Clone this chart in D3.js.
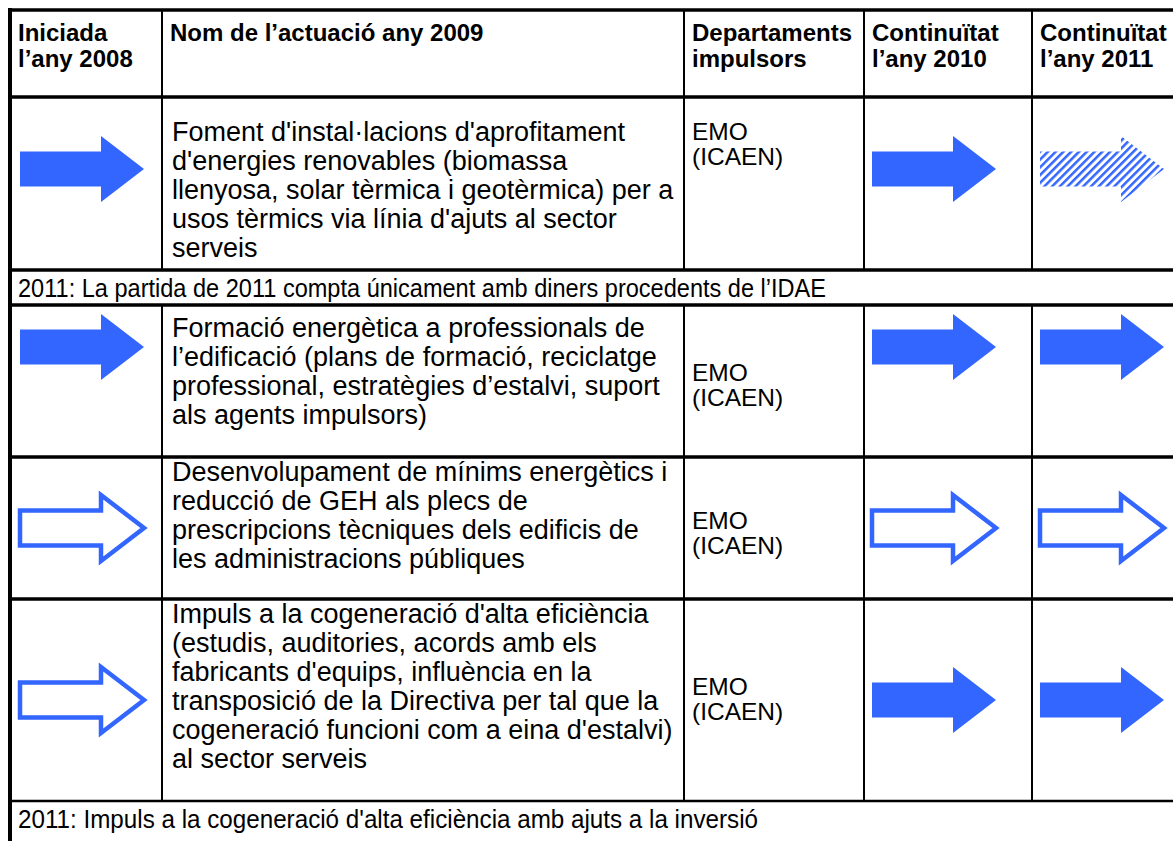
<!DOCTYPE html>
<html><head><meta charset="utf-8">
<script src="https://cdn.jsdelivr.net/npm/d3@7"></script>
<style>html,body{margin:0;padding:0;background:#fff;}svg{display:block;}</style>
</head><body>
<script>
// ---- data ----
const headerLabels = [["Iniciada","l’any 2008"],["Nom de l’actuació any 2009"],["Departaments","impulsors"],["Continuïtat","l’any 2010"],["Continuïtat","l’any 2011"]];
const actionNames = [
  ["Foment d'instal·lacions d'aprofitament","d'energies renovables (biomassa","llenyosa, solar tèrmica i geotèrmica) per a","usos tèrmics via línia d'ajuts al sector","serveis"],
  ["Formació energètica a professionals de","l’edificació (plans de formació, reciclatge","professional, estratègies d’estalvi, suport","als agents impulsors)"],
  ["Desenvolupament de mínims energètics i","reducció de GEH als plecs de","prescripcions tècniques dels edificis de","les administracions públiques"],
  ["Impuls a la cogeneració d'alta eficiència","(estudis, auditories, acords amb els","fabricants d'equips, influència en la","transposició de la Directiva per tal que la","cogeneració funcioni com a eina d'estalvi)","al sector serveis"]
];
const departments = [["EMO","(ICAEN)"],["EMO","(ICAEN)"],["EMO","(ICAEN)"],["EMO","(ICAEN)"]];
const start2008 = ["filled","filled","outline","outline"];
const cont2010 = ["filled","filled","outline","filled"];
const cont2011 = ["hatched","filled","outline","filled"];
const notes = [
  {after:0, text:"2011: La partida de 2011 compta únicament amb diners procedents de l’IDAE"},
  {after:3, text:"2011: Impuls a la cogeneració d'alta eficiència amb ajuts a la inversió"}
];

// ---- layout ----
const W = 1173, H = 841;
const colX = [10,162,684,864,1032,1190];
const headerH = 87;
const rowH = [173,152,142,202];
const noteH = [35,60];
const noteWidth = [808,740];        // condensed note text widths
const blue = "#3366FF";
const bodySize = 27, bodyLH = 29;
const headSize = 24, headLH = 26;
const deptSize = 24.5, deptLH = 25;
const textBase = [44,32,24,24];
const deptBase = [43,76,72,96];
const arrowCY = [169,347,528,700];

const svg = d3.select("body").append("svg").attr("width",W).attr("height",H)
  .style("font-family","'Liberation Sans', Arial, sans-serif");
const defs = svg.append("defs");
const pat = defs.append("pattern").attr("id","hatch").attr("patternUnits","userSpaceOnUse")
  .attr("width",5.5).attr("height",5.5).attr("patternTransform","rotate(45)");
pat.append("rect").attr("width",2.5).attr("height",5.5).attr("fill",blue);

const segs = [];
let y = 10;
segs.push({type:"header", y0:y, y1:y+headerH}); y += headerH;
actionNames.forEach((n,i)=>{
  segs.push({type:"row", i, y0:y, y1:y+rowH[i]}); y += rowH[i];
  notes.forEach((nt,k)=>{ if(nt.after===i){ segs.push({type:"note", k, y0:y, y1:y+noteH[k]}); y += noteH[k]; }});
});

const x = d3.scaleOrdinal().domain(d3.range(colX.length)).range(colX);

function textLines(g, lines, x0, yBase, size, lh, bold){
  g.selectAll(null).data(lines).join("text")
    .attr("x", x0).attr("y",(d,j)=> yBase + j*lh)
    .attr("font-size",size).attr("font-weight",bold?"bold":"normal").attr("fill","#000")
    .text(d=>d);
}

function arrow(g, kind, x0, cy){
  const L = 124, sh = 35, hh = 66, hl = 43;
  const pts = [[0,-sh/2],[L-hl,-sh/2],[L-hl,-hh/2],[L,0],[L-hl,hh/2],[L-hl,sh/2],[0,sh/2]];
  const p = g.append("path").attr("d", d3.line()(pts.map(p=>[x0+p[0],cy+p[1]]))+"Z");
  if(kind==="filled") p.attr("fill",blue);
  else if(kind==="outline") p.attr("fill","none").attr("stroke",blue).attr("stroke-width",4.5).attr("stroke-linejoin","miter");
  else p.attr("fill","url(#hatch)");
}

segs.forEach(s=>{
  const g = svg.append("g");
  if(s.type==="header"){
    headerLabels.forEach((h,c)=> textLines(g,h,x(c)+8,s.y0+31,headSize,headLH,true));
  } else if(s.type==="row"){
    const i = s.i;
    textLines(g, actionNames[i], x(1)+10, s.y0+textBase[i], bodySize, bodyLH, false);
    textLines(g, departments[i], x(2)+8, s.y0+deptBase[i], deptSize, deptLH, false);
    arrow(g, start2008[i], x(0)+10, arrowCY[i]);
    arrow(g, cont2010[i], x(3)+8, arrowCY[i]);
    arrow(g, cont2011[i], x(4)+8, arrowCY[i]);
  } else {
    g.append("text").attr("x", x(0)+8).attr("y", s.y0 + 27)
      .attr("font-size",26).attr("fill","#000")
      .attr("textLength", noteWidth[s.k]).attr("lengthAdjust","spacingAndGlyphs")
      .text(notes[s.k].text);
  }
});

const lines = svg.append("g").attr("stroke","#000");
segs.forEach((s,j)=>{
  const w = (s.type==="note" && s.k===1) ? 2.5 : 3.5;
  lines.append("line").attr("x1",colX[0]-2).attr("x2",W).attr("y1",s.y0).attr("y2",s.y0).attr("stroke-width",w);
});
lines.append("line").attr("x1",colX[0]).attr("x2",colX[0]).attr("y1",8).attr("y2",H).attr("stroke-width",4);
segs.filter(s=>s.type!=="note").forEach(s=>{
  colX.slice(1,5).forEach(cx=>{
    lines.append("line").attr("x1",cx).attr("x2",cx).attr("y1",s.y0).attr("y2",s.y1).attr("stroke-width",2);
  });
});
</script>
</body></html>
